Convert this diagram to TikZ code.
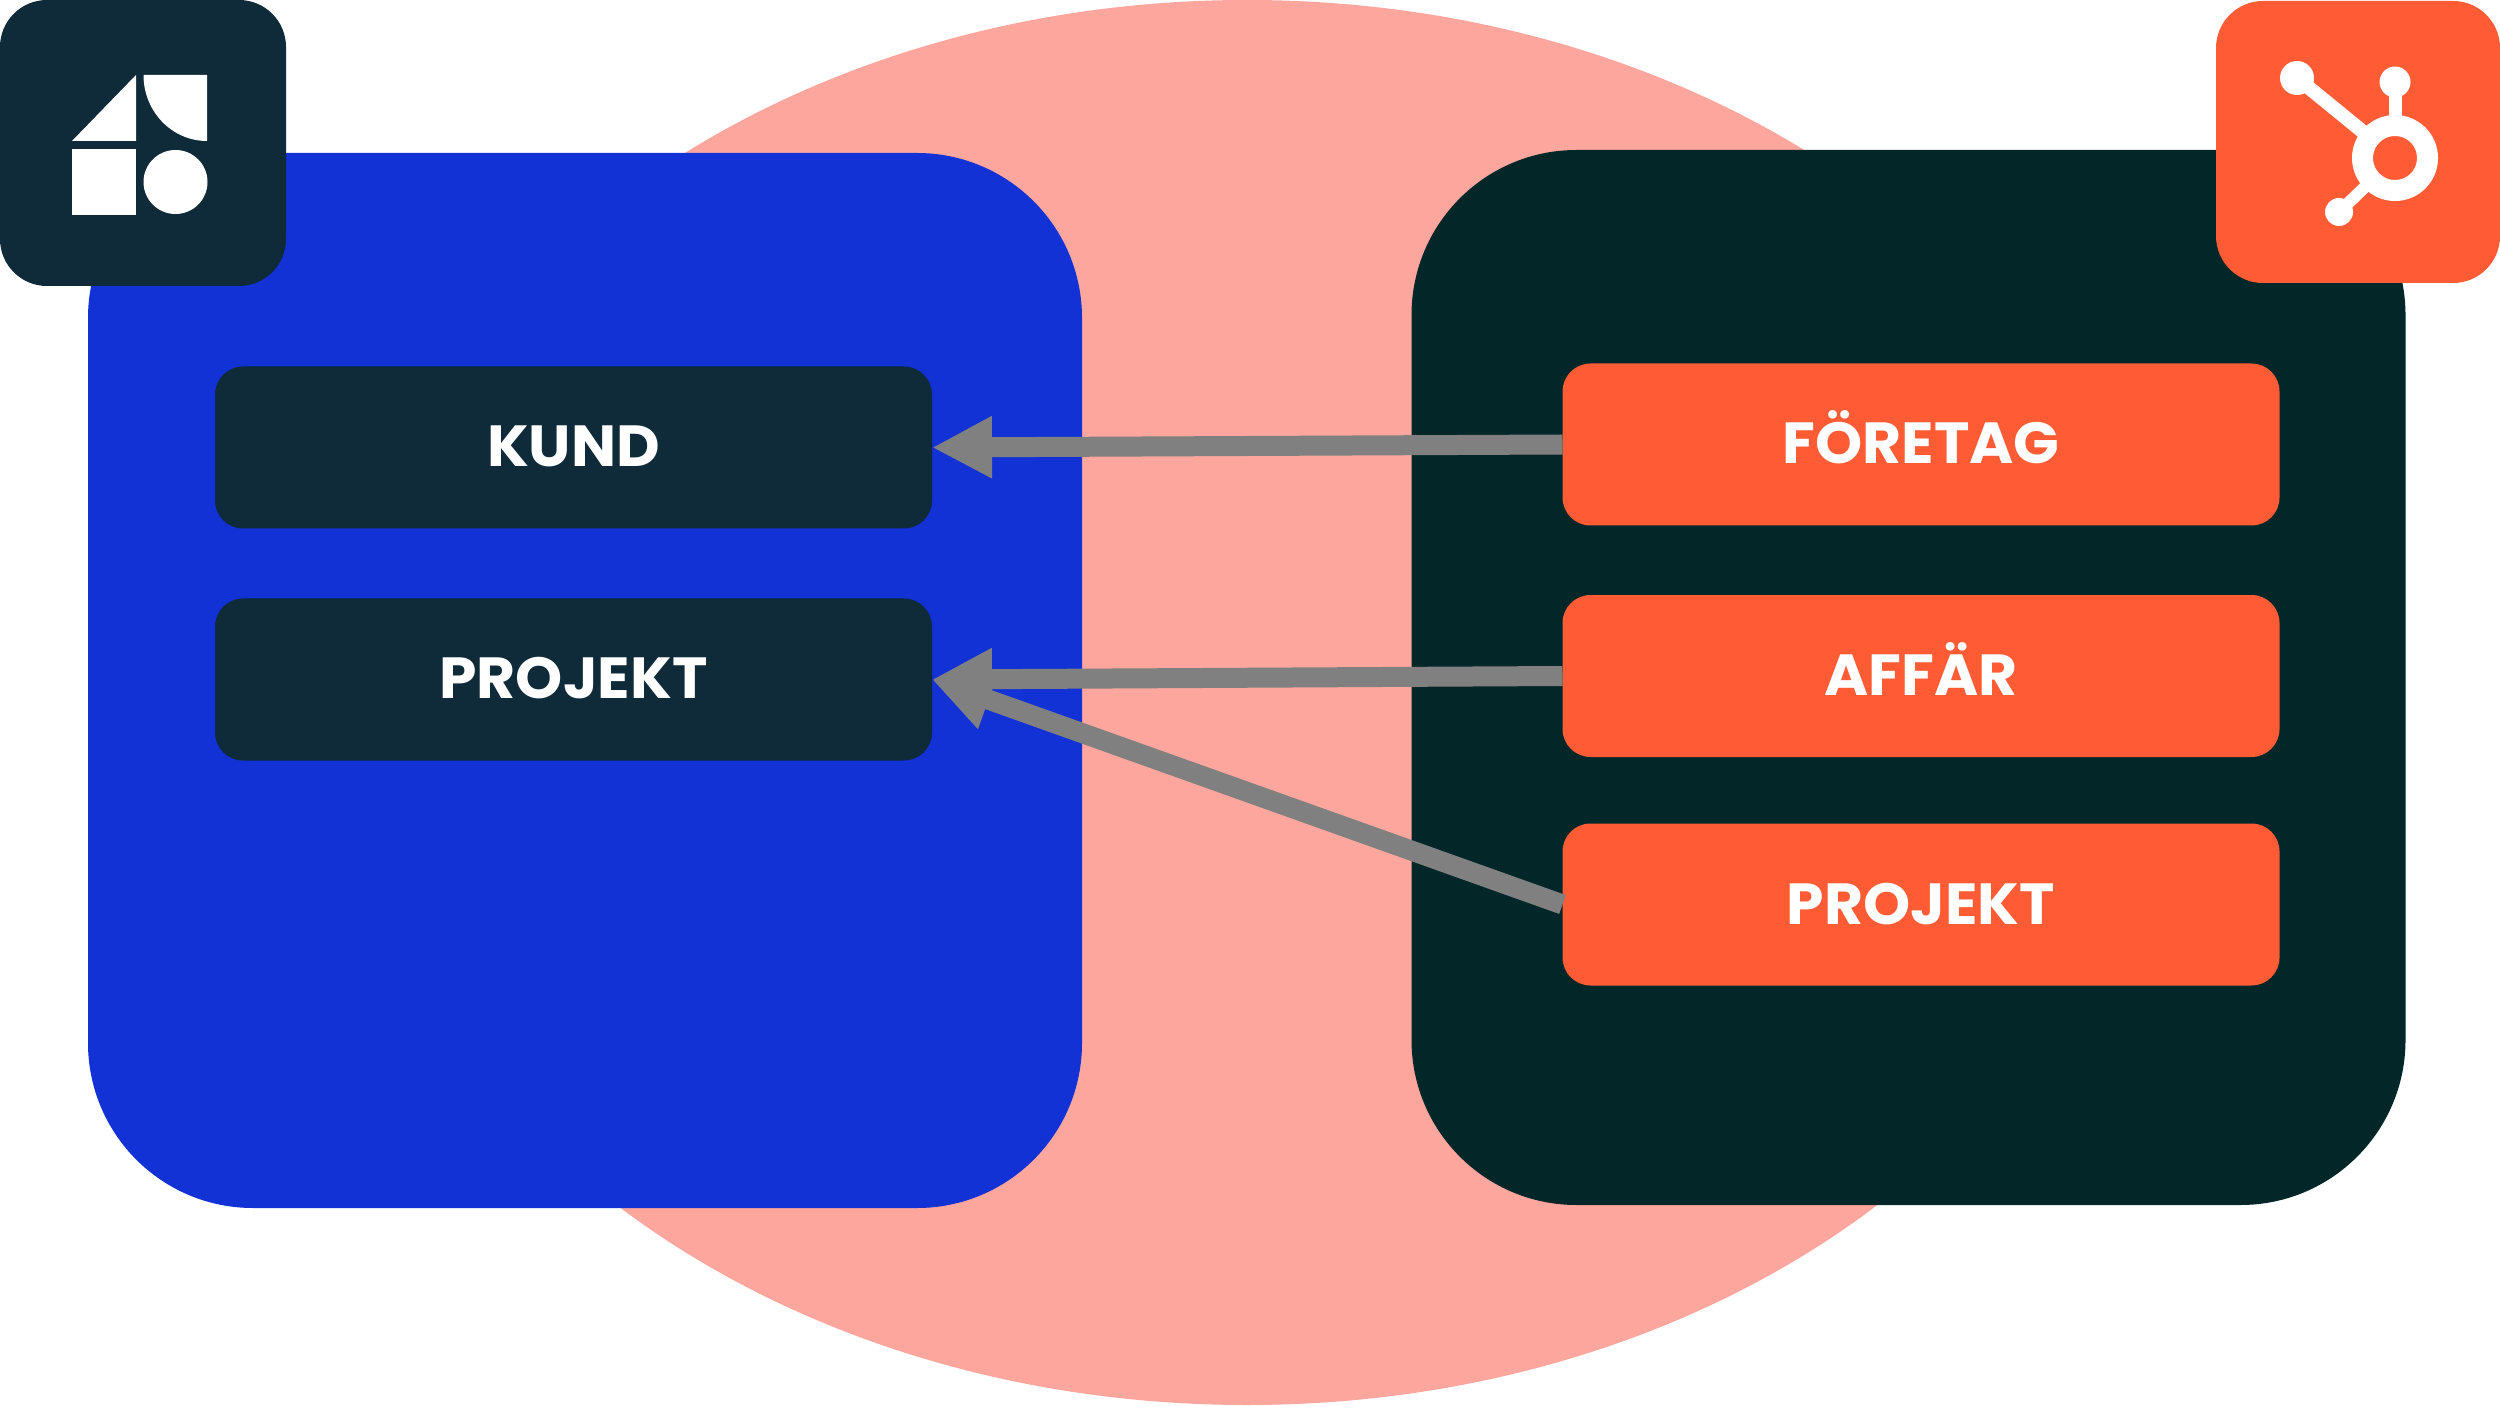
\documentclass[tikz,border=0pt]{standalone}
\usepackage{fontspec}
\setmainfont{Poppins}[FakeStretch=1.035]
\usetikzlibrary{arrows.meta}
\definecolor{salmon}{HTML}{FCA69E}
\definecolor{panelblue}{HTML}{1232D5}
\definecolor{paneldark}{HTML}{032628}
\definecolor{boxdark}{HTML}{0F2A39}
\definecolor{orange}{HTML}{FF5C35}
\definecolor{arrowgrey}{HTML}{808080}
\tikzset{
  panel/.style={rounded corners=1.65cm,inner sep=0pt,outer sep=0pt,minimum width=9.94cm,minimum height=10.55cm},
  entity/.style={rounded corners=0.28cm,inner sep=0pt,outer sep=0pt,minimum width=7.17cm,minimum height=1.62cm,
    text=white,text height=0.41cm,text depth=0.02cm,font=\fontsize{16.5}{18}\selectfont\bfseries},
  badge/.style={rounded corners=0.47cm,inner sep=0pt,outer sep=0pt},
  sync/.style={draw=arrowgrey,line width=0.2cm,-{Triangle[length=0.6cm,width=0.58cm,fill=arrowgrey]}},
}
\begin{document}
\begin{tikzpicture}
      \useasboundingbox (0,0) rectangle (25,14.05);
      \fill[salmon] (12.47,7.025) ellipse (9.02 and 7.025);
      \node[panel,fill=panelblue] (crm) at (5.85,7.245) {};
      \node[panel,fill=paneldark] (hubspot) at (19.085,7.275) {};
      \node[badge,fill=boxdark,minimum width=2.86cm,minimum height=2.86cm] (logoleft) at (1.43,12.62) {};
      \node[badge,fill=orange,minimum width=2.84cm,minimum height=2.82cm] (logoright) at (23.58,12.63) {};
      % left logo
      \fill[white] (0.72,12.64) -- (1.36,13.30) -- (1.36,12.64) -- cycle;
      \fill[white] (1.435,13.30) -- (2.07,13.30) -- (2.07,12.64) arc (270:180:0.635 and 0.66) -- cycle;
      \fill[white] (0.72,11.90) rectangle (1.36,12.56);
      \fill[white] (1.755,12.23) circle (0.32);
      % right logo
      \draw[white,line width=0.14cm] (22.97,13.27) -- (23.95,12.47);
      \draw[white,line width=0.13cm] (23.95,13.23) -- (23.95,12.47);
      \draw[white,line width=0.12cm] (23.39,11.93) -- (23.95,12.47);
      \fill[white] (22.97,13.27) circle (0.17);
      \fill[white] (23.95,13.23) circle (0.155);
      \fill[white] (23.39,11.93) circle (0.14);
      \draw[white,fill=orange,line width=0.21cm] (23.95,12.47) circle (0.325);
      % boxes
      \node[entity,fill=boxdark] (kund) at (5.735,9.575) {KUND};
      \node[entity,fill=boxdark] (projleft) at (5.735,7.255) {PROJEKT};
      \node[entity,fill=orange] (foretag) at (19.21,9.605) {FÖRETAG};
      \node[entity,fill=orange] (affar) at (19.21,7.29) {AFFÄR};
      \node[entity,fill=orange] (projright) at (19.21,5.005) {PROJEKT};
      \draw[sync] (foretag.west) -- (kund.east);
      \draw[sync] (affar.west) -- (projleft.east);
      \draw[sync] (projright.west) -- (projleft.east);
    \end{tikzpicture}
\end{document}
